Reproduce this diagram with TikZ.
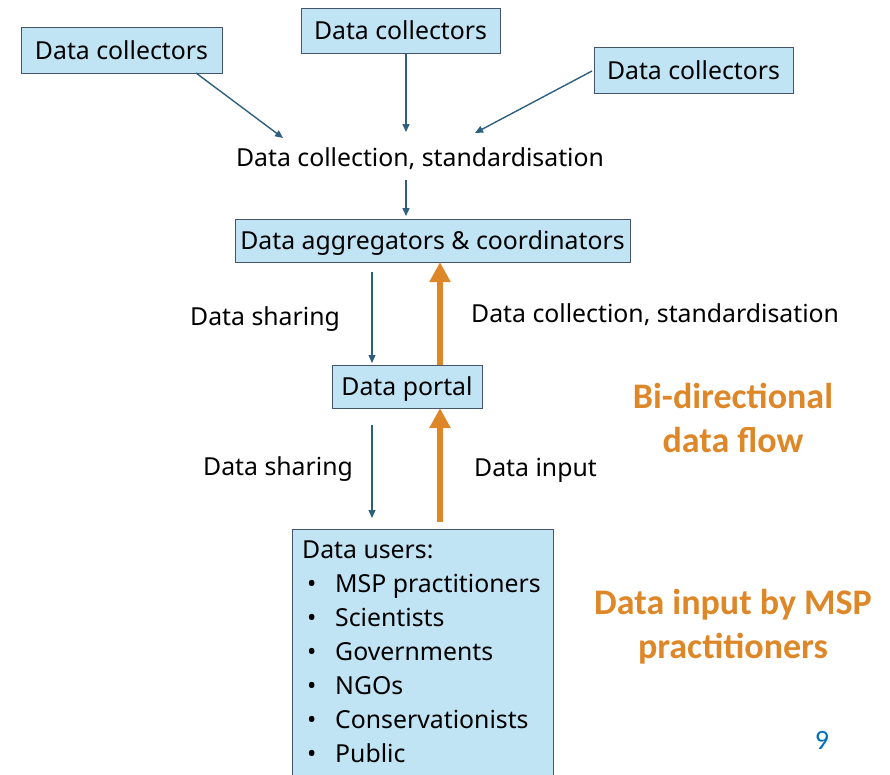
\documentclass[tikz,border=0pt]{standalone}
\usepackage{fontspec}
\setmainfont{Noto Sans}
\newfontfamily\carlito{Carlito}
\usetikzlibrary{arrows.meta,calc}
\definecolor{boxfill}{RGB}{193,228,245}
\definecolor{boxdraw}{RGB}{68,84,106}
\definecolor{arrblue}{RGB}{47,95,127}
\definecolor{flow}{RGB}{222,135,40}
\definecolor{pgnum}{RGB}{0,112,192}
\tikzset{
  box/.style={draw=boxdraw, line width=1pt, fill=boxfill, inner sep=0pt, text depth=0pt, font=\fontsize{24.8}{28}\selectfont},
  lbl/.style={inner sep=0pt, text depth=0pt, font=\fontsize{24.8}{28}\selectfont},
  thin/.style={draw=arrblue, line width=1.4pt, -{Triangle[width=7pt,length=8pt]}},
  thick/.style={draw=flow, line width=6.5pt, -{Triangle[width=20pt,length=20pt]}},
  note/.style={inner sep=0pt, text=flow, align=center, font=\carlito\bfseries\fontsize{36}{44}\selectfont},
}
\begin{document}
\begin{tikzpicture}[x=1pt,y=-1pt]
\useasboundingbox (0,0) rectangle (890,774);
% boxes
\node[box, minimum width=201pt, minimum height=46pt] (dc1) at (121.5,50) {Data collectors};
\node[box, minimum width=199pt, minimum height=45pt] (dc2) at (400.5,30.5) {Data collectors};
\node[box, minimum width=199pt, minimum height=46pt] (dc3) at (693.5,70) {Data collectors};
\node[lbl] (dcs) at (420,157) {Data collection, standardisation};
\node[box, minimum width=395pt, minimum height=43pt] (agg) at (432.5,240.5) {Data aggregators \& coordinators};
\node[box, minimum width=150pt, minimum height=43pt] (portal) at (407,386.5) {Data portal};
\node[box, anchor=north west, minimum width=261pt, minimum height=270pt] (users) at (292,529) {};
\node[inner sep=0pt, anchor=north west, align=left, font=\fontsize{24.8}{34}\selectfont] (ulist) at (302,541)
{Data users:\\
\hspace*{5pt}\makebox[28pt][l]{•}MSP practitioners\\
\hspace*{5pt}\makebox[28pt][l]{•}Scientists\\
\hspace*{5pt}\makebox[28pt][l]{•}Governments\\
\hspace*{5pt}\makebox[28pt][l]{•}NGOs\\
\hspace*{5pt}\makebox[28pt][l]{•}Conservationists\\
\hspace*{5pt}\makebox[28pt][l]{•}Public};
% labels
\node[lbl, anchor=west] (sh1) at (190,316) {Data sharing};
\node[lbl, anchor=west] (dcs2) at (471,313) {Data collection, standardisation};
\node[lbl, anchor=west] (sh2) at (203,466) {Data sharing};
\node[lbl, anchor=west] (din) at (474,467) {Data input};
\node[note] (bidir) at (733,418) {Bi-directional\\data flow};
\node[note] (msp) at (733,627) {Data input by MSP\\practitioners};
\node[inner sep=0pt, text=pgnum, font=\carlito\fontsize{28}{30}\selectfont] (pg) at (822,740) {9};
% connector ends
\coordinate (a1s) at (196,73);  \coordinate (a1e) at (283,138);
\coordinate (a2s) at (406,53);  \coordinate (a2e) at (406,132);
\coordinate (a3s) at (592,71);  \coordinate (a3e) at (475,133);
\coordinate (a4s) at (406,180); \coordinate (a4e) at (406,216);
\coordinate (a5s) at (372,272); \coordinate (a5e) at (372,363);
\coordinate (a6s) at (372,425); \coordinate (a6e) at (372,518);
\coordinate (o1s) at (440,365); \coordinate (o1e) at (440,262);
\coordinate (o2s) at (440,522); \coordinate (o2e) at (440,408);
\draw[thin] (a1s) -- (a1e);
\draw[thin] (a2s) -- (a2e);
\draw[thin] (a3s) -- (a3e);
\draw[thin] (a4s) -- (a4e);
\draw[thin] (a5s) -- (a5e);
\draw[thin] (a6s) -- (a6e);
\draw[thick] (o1s) -- (o1e);
\draw[thick] (o2s) -- (o2e);
\end{tikzpicture}
\end{document}
